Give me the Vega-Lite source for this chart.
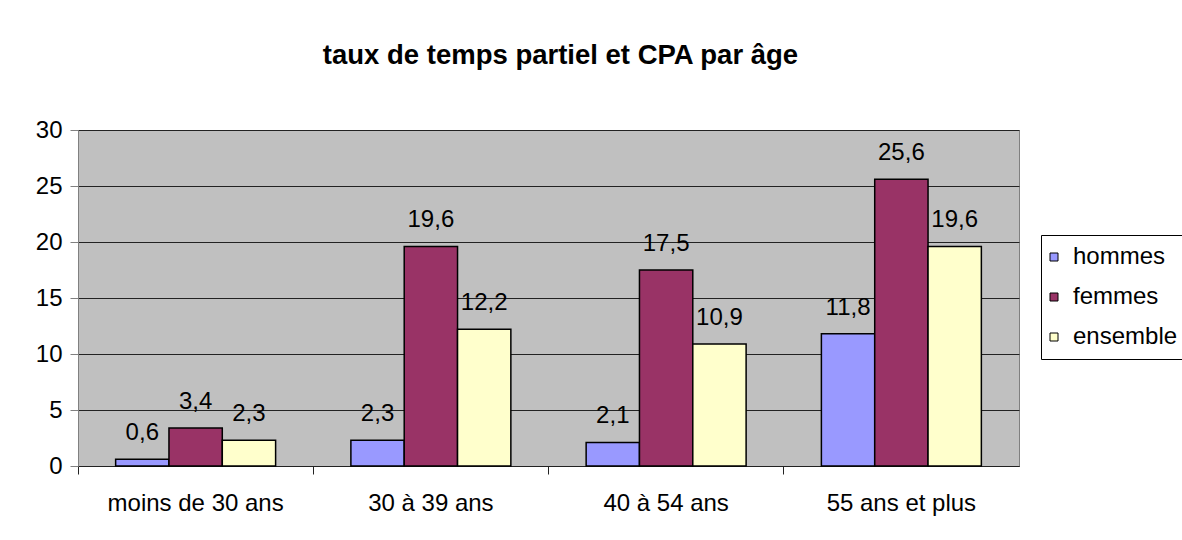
{
  "$schema": "https://vega.github.io/schema/vega-lite/v6.json",
  "width": 941,
  "height": 336,
  "autosize": {"type": "none"},
  "padding": {"left": 78, "top": 130, "right": 163, "bottom": 74},
  "background": "white",
  "title": {
    "text": "taux de temps partiel et CPA  par âge",
    "font": "Liberation Sans",
    "fontSize": 27.5,
    "fontWeight": "bold",
    "color": "black",
    "anchor": "middle",
    "frame": "group",
    "dx": 12,
    "offset": 49
  },
  "config": {
    "locale": {"number": {"decimal": ",", "thousands": " ", "grouping": [3], "currency": ["", " €"]}},
    "view": {"stroke": "#808080", "fill": "#C0C0C0", "strokeWidth": 1}
  },
  "data": {
    "values": [
      {"age": "moins de 30 ans", "serie": "hommes", "taux": 0.6},
      {"age": "moins de 30 ans", "serie": "femmes", "taux": 3.4},
      {"age": "moins de 30 ans", "serie": "ensemble", "taux": 2.3},
      {"age": "30 à 39 ans", "serie": "hommes", "taux": 2.3},
      {"age": "30 à 39 ans", "serie": "femmes", "taux": 19.6},
      {"age": "30 à 39 ans", "serie": "ensemble", "taux": 12.2},
      {"age": "40 à 54 ans", "serie": "hommes", "taux": 2.1},
      {"age": "40 à 54 ans", "serie": "femmes", "taux": 17.5},
      {"age": "40 à 54 ans", "serie": "ensemble", "taux": 10.9},
      {"age": "55 ans et plus", "serie": "hommes", "taux": 11.8},
      {"age": "55 ans et plus", "serie": "femmes", "taux": 25.6},
      {"age": "55 ans et plus", "serie": "ensemble", "taux": 19.6}
    ]
  },
  "encoding": {
    "x": {
      "field": "age", "type": "nominal", "sort": null,
      "scale": {"paddingInner": 0.32, "paddingOuter": 0.16}
    },
    "xOffset": {
      "field": "serie", "type": "nominal",
      "sort": ["hommes", "femmes", "ensemble"],
      "scale": {"paddingInner": 0, "paddingOuter": 0}
    },
    "y": {
      "field": "taux", "type": "quantitative",
      "scale": {"domain": [0, 30], "nice": false}
    }
  },
  "layer": [
    {
      "mark": {"type": "bar", "stroke": "black", "strokeWidth": 1.5},
      "encoding": {
        "x": {
          "field": "age", "type": "nominal", "sort": null,
          "axis": {
            "orient": "bottom",
            "title": null,
            "labelAngle": 0,
            "labelLimit": 0,
            "labelFont": "Liberation Sans",
            "labelFontSize": 24,
            "labelColor": "black",
            "labelBaseline": "alphabetic",
            "labelPadding": 44,
            "ticks": false,
            "tickSize": 0,
            "domainColor": "#222222",
            "domainWidth": 1
          }
        },
        "y": {
          "field": "taux", "type": "quantitative",
          "axis": {
            "title": null,
            "values": [0, 5, 10, 15, 20, 25, 30],
            "labelFont": "Liberation Sans",
            "labelFontSize": 24,
            "labelColor": "black",
            "labelPadding": 8,
            "tickSize": 8,
            "tickColor": "#808080",
            "domainColor": "#808080",
            "gridColor": "#222222",
            "gridWidth": 1
          }
        },
        "color": {
          "field": "serie", "type": "nominal",
          "scale": {"domain": ["hommes", "femmes", "ensemble"], "range": ["#9999FF", "#993366", "#FFFFCC"]},
          "legend": {
            "title": null,
            "orient": "none",
            "legendX": 963,
            "legendY": 105,
            "strokeColor": "black",
            "fillColor": "white",
            "padding": 10,
            "symbolType": "square",
            "symbolSize": 64,
            "symbolOffset": -9,
            "symbolStrokeColor": "black",
            "symbolStrokeWidth": 1,
            "labelFont": "Liberation Sans",
            "labelFontSize": 24,
            "labelLimit": 0,
            "labelColor": "black",
            "labelOffset": 7,
            "rowPadding": 16
          }
        }
      }
    },
    {
      "mark": {"type": "text", "font": "Liberation Sans", "fontSize": 24, "color": "black", "baseline": "alphabetic", "dy": -19},
      "encoding": {
        "x": {
          "field": "age", "type": "nominal", "sort": null,
          "axis": {
            "orient": "bottom",
            "title": null,
            "labels": false,
            "domain": false,
            "grid": false,
            "ticks": true,
            "tickSize": 8,
            "tickColor": "#222222",
            "bandPosition": -0.235
          }
        },
        "text": {"field": "taux", "type": "quantitative", "format": ".1f"}
      }
    }
  ],
  "resolve": {"axis": {"x": "independent"}}
}
